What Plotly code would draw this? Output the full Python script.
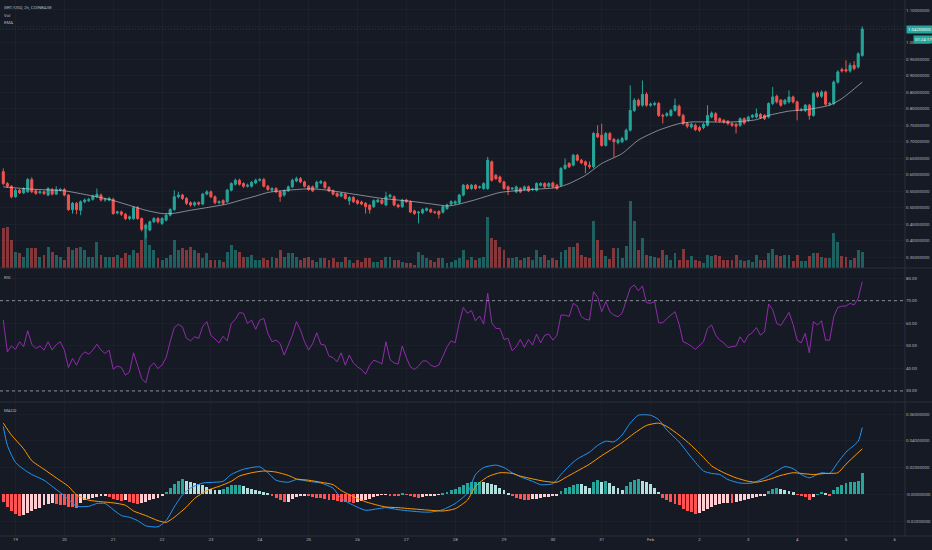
import numpy as np
import pandas as pd
import plotly.graph_objects as go

# ---------------- data (2h candles, GRT/USD Coinbase) ----------------
start = pd.Timestamp("2021-01-18 18:00")

open_ = [0.609,0.573,0.565,0.533,0.553,0.545,0.548,0.585,0.551,0.545,
 0.548,0.538,0.555,0.541,0.553,0.555,0.538,0.494,0.513,0.492,
 0.518,0.521,0.525,0.533,0.538,0.523,0.523,0.525,0.484,0.487,
 0.480,0.467,0.467,0.500,0.467,0.437,0.432,0.457,0.467,0.452,
 0.462,0.477,0.494,0.533,0.538,0.528,0.515,0.508,0.515,0.511,
 0.541,0.548,0.533,0.515,0.521,0.518,0.553,0.571,0.583,0.573,
 0.565,0.565,0.575,0.583,0.585,0.565,0.553,0.558,0.548,0.538,
 0.551,0.563,0.581,0.588,0.578,0.565,0.563,0.561,0.575,0.577,
 0.561,0.551,0.543,0.535,0.541,0.521,0.531,0.521,0.517,0.513,
 0.507,0.503,0.518,0.523,0.508,0.533,0.533,0.508,0.503,0.523,
 0.518,0.490,0.484,0.484,0.492,0.494,0.487,0.488,0.486,0.497,
 0.511,0.513,0.515,0.538,0.568,0.558,0.568,0.561,0.558,0.558,
 0.639,0.598,0.593,0.578,0.563,0.557,0.548,0.558,0.555,0.563,
 0.555,0.553,0.568,0.573,0.565,0.575,0.568,0.568,0.619,0.634,
 0.629,0.659,0.644,0.639,0.629,0.624,0.725,0.720,0.689,0.725,
 0.707,0.697,0.700,0.707,0.735,0.795,0.826,0.811,0.844,0.811,
 0.813,0.816,0.780,0.780,0.780,0.795,0.808,0.780,0.755,0.745,
 0.750,0.743,0.743,0.750,0.775,0.785,0.770,0.765,0.762,0.755,
 0.753,0.750,0.770,0.765,0.775,0.775,0.783,0.780,0.775,0.816,
 0.838,0.826,0.816,0.821,0.836,0.821,0.797,0.795,0.811,0.780,
 0.848,0.838,0.851,0.814,0.816,0.881,0.919,0.919,0.915,0.932,
 0.927,0.962]

close_ = [0.573,0.565,0.533,0.553,0.545,0.558,0.585,0.548,0.543,0.548,
 0.543,0.558,0.541,0.555,0.555,0.538,0.494,0.513,0.494,0.518,
 0.523,0.525,0.535,0.541,0.523,0.525,0.528,0.482,0.487,0.480,
 0.467,0.472,0.500,0.467,0.434,0.447,0.457,0.467,0.457,0.467,
 0.477,0.494,0.533,0.538,0.528,0.513,0.508,0.515,0.511,0.541,
 0.548,0.533,0.515,0.518,0.513,0.553,0.573,0.583,0.571,0.565,
 0.568,0.577,0.583,0.585,0.565,0.555,0.558,0.548,0.533,0.551,
 0.563,0.583,0.588,0.578,0.565,0.555,0.551,0.577,0.579,0.561,
 0.551,0.541,0.535,0.543,0.528,0.531,0.518,0.513,0.511,0.503,
 0.494,0.521,0.523,0.513,0.533,0.538,0.508,0.503,0.523,0.518,
 0.487,0.482,0.486,0.494,0.497,0.487,0.485,0.480,0.503,0.508,
 0.518,0.518,0.538,0.568,0.558,0.568,0.558,0.563,0.573,0.644,
 0.583,0.588,0.578,0.558,0.555,0.559,0.563,0.548,0.563,0.551,
 0.556,0.573,0.573,0.563,0.573,0.563,0.558,0.619,0.629,0.624,
 0.659,0.644,0.636,0.629,0.624,0.725,0.715,0.689,0.725,0.707,
 0.700,0.705,0.710,0.735,0.795,0.826,0.811,0.844,0.811,0.814,
 0.816,0.780,0.778,0.785,0.795,0.810,0.780,0.755,0.747,0.753,
 0.737,0.735,0.753,0.780,0.787,0.765,0.763,0.760,0.755,0.750,
 0.747,0.770,0.757,0.775,0.780,0.785,0.773,0.770,0.816,0.836,
 0.821,0.811,0.826,0.836,0.821,0.795,0.798,0.811,0.780,0.846,
 0.838,0.851,0.814,0.816,0.881,0.912,0.915,0.915,0.932,0.922,
 0.967,1.042]

high_ = [0.619,0.578,0.568,0.558,0.557,0.562,0.590,0.592,0.556,0.553,
 0.552,0.562,0.560,0.565,0.560,0.560,0.541,0.517,0.517,0.522,
 0.528,0.530,0.539,0.558,0.543,0.530,0.533,0.530,0.491,0.491,
 0.484,0.476,0.505,0.505,0.470,0.452,0.461,0.471,0.471,0.471,
 0.481,0.498,0.553,0.548,0.542,0.532,0.519,0.519,0.519,0.545,
 0.553,0.552,0.537,0.522,0.525,0.557,0.577,0.588,0.588,0.577,
 0.573,0.581,0.588,0.590,0.590,0.569,0.562,0.562,0.552,0.555,
 0.567,0.588,0.594,0.593,0.582,0.569,0.567,0.582,0.584,0.581,
 0.565,0.555,0.547,0.547,0.545,0.535,0.535,0.525,0.521,0.517,
 0.511,0.525,0.527,0.527,0.548,0.542,0.537,0.512,0.527,0.527,
 0.522,0.494,0.490,0.498,0.501,0.498,0.491,0.492,0.507,0.512,
 0.522,0.522,0.542,0.572,0.572,0.572,0.572,0.567,0.577,0.654,
 0.643,0.602,0.597,0.582,0.567,0.562,0.567,0.562,0.567,0.567,
 0.560,0.577,0.577,0.577,0.577,0.579,0.572,0.623,0.649,0.638,
 0.663,0.663,0.648,0.643,0.640,0.730,0.750,0.755,0.730,0.730,
 0.712,0.710,0.715,0.740,0.871,0.832,0.831,0.886,0.850,0.819,
 0.822,0.821,0.785,0.790,0.800,0.831,0.813,0.785,0.760,0.758,
 0.755,0.748,0.758,0.811,0.792,0.790,0.774,0.769,0.766,0.759,
 0.757,0.774,0.774,0.779,0.784,0.801,0.787,0.784,0.820,0.866,
 0.843,0.830,0.830,0.856,0.840,0.825,0.803,0.815,0.815,0.851,
 0.853,0.856,0.855,0.821,0.886,0.917,0.925,0.947,0.940,0.945,
 0.972,1.050]

low_ = [0.568,0.560,0.528,0.530,0.541,0.541,0.545,0.544,0.539,0.541,
 0.538,0.535,0.537,0.538,0.549,0.534,0.490,0.482,0.480,0.477,
 0.513,0.517,0.521,0.529,0.519,0.518,0.519,0.478,0.479,0.475,
 0.462,0.462,0.463,0.463,0.428,0.407,0.428,0.453,0.452,0.447,
 0.458,0.473,0.490,0.528,0.523,0.508,0.503,0.503,0.506,0.507,
 0.537,0.529,0.510,0.510,0.508,0.514,0.549,0.567,0.567,0.560,
 0.561,0.561,0.571,0.579,0.561,0.551,0.548,0.544,0.518,0.533,
 0.547,0.559,0.577,0.574,0.561,0.551,0.547,0.557,0.571,0.557,
 0.547,0.537,0.531,0.531,0.524,0.508,0.514,0.509,0.507,0.482,
 0.482,0.499,0.514,0.509,0.504,0.528,0.504,0.498,0.499,0.514,
 0.483,0.478,0.452,0.480,0.488,0.483,0.481,0.467,0.482,0.493,
 0.507,0.509,0.511,0.534,0.554,0.554,0.554,0.557,0.554,0.554,
 0.579,0.584,0.574,0.554,0.538,0.553,0.544,0.544,0.551,0.547,
 0.551,0.549,0.564,0.559,0.561,0.559,0.554,0.564,0.615,0.620,
 0.625,0.640,0.632,0.604,0.618,0.619,0.711,0.685,0.685,0.703,
 0.654,0.692,0.696,0.703,0.731,0.790,0.806,0.806,0.806,0.806,
 0.808,0.775,0.755,0.775,0.776,0.791,0.776,0.750,0.741,0.740,
 0.732,0.730,0.738,0.746,0.771,0.760,0.758,0.755,0.750,0.745,
 0.725,0.745,0.752,0.760,0.771,0.771,0.769,0.766,0.771,0.811,
 0.816,0.806,0.811,0.816,0.816,0.765,0.792,0.790,0.767,0.776,
 0.833,0.833,0.809,0.809,0.811,0.876,0.910,0.910,0.910,0.917,
 0.922,0.958]

volume_m = [4.0,4.1,2.8,1.6,1.5,1.1,2.0,2.0,2.0,1.1,
 1.3,2.1,1.6,1.3,1.1,0.8,2.1,1.8,2.0,2.1,
 1.8,1.1,1.1,2.6,1.3,1.1,1.1,1.1,1.3,1.0,
 1.5,1.3,1.8,1.5,2.8,4.0,2.3,1.8,1.0,0.8,
 1.0,1.3,2.8,1.8,2.0,1.8,2.1,1.8,1.5,1.0,
 1.5,0.8,0.8,0.8,0.6,1.6,2.3,1.8,1.6,1.1,
 1.1,1.3,0.8,0.8,1.0,0.8,1.1,1.0,1.8,1.1,
 1.5,1.5,1.1,0.8,1.0,1.1,0.8,0.6,1.0,1.0,
 0.8,1.0,0.6,0.6,1.1,0.8,0.5,0.8,0.6,1.0,
 1.0,0.6,0.6,0.8,1.1,1.1,0.8,0.8,0.6,0.5,
 0.5,0.3,1.6,1.3,1.0,0.8,0.6,1.0,1.0,0.5,
 0.6,0.8,1.0,1.8,0.8,1.1,0.8,1.0,1.1,5.1,
 3.0,2.8,2.1,1.8,1.0,1.0,1.1,0.8,1.0,1.1,
 0.8,1.8,1.1,1.3,0.8,1.0,0.8,1.6,1.8,2.1,
 2.1,2.5,1.3,1.1,1.0,4.7,2.8,1.8,1.2,0.9,
 2.0,2.0,1.0,2.2,6.7,4.7,1.8,3.0,1.3,1.2,
 1.1,1.0,1.8,1.3,0.8,1.5,0.8,1.9,0.8,1.2,
 0.8,0.7,0.5,1.3,1.2,1.3,1.2,0.8,0.8,0.8,
 1.3,0.8,0.7,0.8,0.6,1.3,0.8,0.8,1.5,1.9,
 1.3,1.2,1.3,1.3,0.7,1.3,0.7,0.7,1.2,1.5,
 1.5,1.1,1.0,1.0,3.5,2.6,1.2,1.1,0.8,1.0,
 1.8,1.6]

# EMA read at selected candles (candle index, value)
ema_idx = [0,7,15,20,26,32,35,39,42,46,50,55,59,62,65,69,75,79,85,93,101,107,109,
           111,116,122,130,136,139,143,147,152,156,161,166,169,179,185,188,193,197,
           203,206,211]
ema_val = [0.563,0.556,0.551,0.540,0.525,0.503,0.492,0.482,0.483,0.492,0.500,0.511,
           0.525,0.535,0.546,0.552,0.557,0.554,0.543,0.528,0.518,0.508,0.505,0.508,
           0.524,0.546,0.555,0.561,0.573,0.598,0.634,0.664,0.705,0.735,0.755,0.760,
           0.760,0.767,0.780,0.793,0.797,0.811,0.831,0.881]

rsi = [61.4,47.3,49.9,48.4,51.8,49.6,56.7,50.7,48.8,49.9,
 48.1,51.8,48.1,50.5,51.8,48.1,40.4,44.4,41.4,45.4,
 47.3,46.3,48.1,50.7,48.1,46.6,48.1,39.6,41.0,40.4,
 37.0,38.4,46.9,40.7,35.5,33.6,40.7,42.4,39.9,41.5,
 44.8,51.8,58.1,59.5,58.4,53.3,52.2,54.0,53.3,58.7,
 60.7,54.7,53.0,51.3,54.2,52.2,59.9,61.7,64.7,64.4,
 59.9,61.4,57.3,61.4,62.1,55.5,51.8,52.5,51.0,45.9,
 50.3,54.7,60.7,57.0,51.8,48.1,51.0,55.8,50.7,50.3,
 45.4,44.8,42.9,46.9,41.4,45.9,42.4,40.7,39.5,37.4,
 41.4,43.6,43.0,41.9,51.8,43.9,42.4,41.9,49.9,44.8,
 40.7,39.5,41.0,43.3,43.3,41.4,40.7,41.5,45.4,49.6,
 52.2,51.3,60.2,67.0,64.4,65.6,61.1,63.2,59.6,73.3,
 60.2,57.7,57.7,52.8,53.3,47.8,49.6,52.8,49.3,52.8,
 50.3,55.2,51.3,54.7,55.2,52.5,54.7,63.6,63.6,63.0,
 68.8,67.6,62.9,61.7,61.4,74.0,71.5,65.1,69.6,65.1,
 63.6,62.9,64.4,69.6,75.5,77.0,74.4,76.5,69.1,68.8,
 69.6,60.2,60.2,62.1,63.5,65.1,59.6,51.8,51.0,49.9,
 48.4,50.3,51.8,57.7,59.2,54.7,52.5,51.3,49.3,49.6,
 49.9,54.0,51.3,54.7,55.8,58.1,54.7,56.2,68.5,66.0,
 59.9,59.0,62.1,64.8,59.6,52.5,51.3,55.5,46.9,60.7,
 59.2,61.1,52.5,52.5,62.9,67.0,67.6,67.6,68.8,68.1,
 71.0,78.4]

macd_idx = [0,1,3,5,7,10,12,14,16,18,21,23,25,27,29,31,33,35,38,40,42,44,46,49,52,
            54,56,59,63,65,67,70,72,75,78,81,83,86,89,92,94,97,100,103,105,108,111,
            114,116,118,121,123,125,127,130,132,135,137,139,141,144,146,148,150,152,
            154,156,159,161,163,166,169,172,174,176,178,181,184,187,190,192,194,196,
            198,201,203,205,207,210,211]
macd_val = [0.0507,0.0366,0.0238,0.0187,0.0148,0.0105,0.0059,0.0013,-0.0038,-0.0090,
            -0.0090,-0.0069,-0.0069,-0.0115,-0.0159,-0.0172,-0.0197,-0.0236,-0.0243,
            -0.0197,-0.0095,-0.0005,0.0046,0.0084,0.0090,0.0097,0.0148,0.0187,0.0205,
            0.0161,0.0105,0.0090,0.0110,0.0097,0.0084,0.0046,-0.0031,-0.0082,-0.0120,
            -0.0108,-0.0100,-0.0115,-0.0125,-0.0133,-0.0133,-0.0115,-0.0069,0.0008,
            0.0148,0.0200,0.0218,0.0200,0.0161,0.0131,0.0097,0.0072,0.0079,0.0148,
            0.0212,0.0264,0.0315,0.0366,0.0397,0.0392,0.0443,0.0532,0.0591,0.0591,
            0.0558,0.0481,0.0392,0.0276,0.0174,0.0156,0.0148,0.0110,0.0084,0.0084,
            0.0123,0.0174,0.0207,0.0192,0.0148,0.0123,0.0161,0.0156,0.0238,0.0315,
            0.0397,0.0499]

signal_idx = [0,2,5,7,10,13,16,18,21,24,27,30,32,35,38,40,42,45,47,50,53,56,58,61,64,
              67,70,72,75,78,81,83,86,89,92,94,97,100,103,105,108,111,114,116,119,122,
              125,127,130,133,136,138,141,144,147,150,152,155,158,161,163,166,169,172,
              174,177,180,183,185,188,191,194,196,199,202,205,207,211]
signal_val = [0.0532,0.0443,0.0340,0.0251,0.0187,0.0123,0.0059,-0.0005,-0.0044,-0.0056,
              -0.0064,-0.0082,-0.0125,-0.0159,-0.0197,-0.0210,-0.0172,-0.0095,-0.0031,
              0.0028,0.0059,0.0097,0.0136,0.0161,0.0174,0.0166,0.0141,0.0115,0.0105,
              0.0090,0.0072,0.0028,-0.0018,-0.0056,-0.0082,-0.0095,-0.0100,-0.0108,
              -0.0115,-0.0120,-0.0125,-0.0108,-0.0044,0.0059,0.0131,0.0161,0.0156,
              0.0136,0.0115,0.0097,0.0090,0.0123,0.0174,0.0225,0.0289,0.0346,0.0387,
              0.0456,0.0515,0.0532,0.0507,0.0443,0.0366,0.0276,0.0212,0.0161,0.0123,
              0.0097,0.0090,0.0110,0.0141,0.0161,0.0156,0.0148,0.0156,0.0161,0.0225,
              0.0340]

hist = [-0.0056,-0.0095,-0.0125,-0.0151,-0.0164,-0.0154,-0.0141,-0.0125,-0.0113,-0.0100,
 -0.0084,-0.0074,-0.0069,-0.0074,-0.0079,-0.0084,-0.0092,-0.0097,-0.0100,-0.0069,
 -0.0046,-0.0033,-0.0026,-0.0020,-0.0015,-0.0010,-0.0018,-0.0033,-0.0044,-0.0049,
 -0.0046,-0.0056,-0.0069,-0.0074,-0.0064,-0.0056,-0.0046,-0.0036,-0.0031,-0.0015,
 0.0020,0.0049,0.0079,0.0100,0.0110,0.0102,0.0092,0.0084,0.0077,0.0067,
 0.0054,0.0041,0.0031,0.0028,0.0041,0.0056,0.0067,0.0072,0.0072,0.0059,
 0.0046,0.0038,0.0028,0.0026,0.0013,0.0003,-0.0015,-0.0031,-0.0046,-0.0061,
 -0.0059,-0.0036,-0.0020,-0.0013,-0.0008,-0.0015,-0.0020,-0.0026,-0.0031,-0.0036,
 -0.0041,-0.0046,-0.0054,-0.0056,-0.0059,-0.0061,-0.0064,-0.0059,-0.0051,-0.0044,
 -0.0033,-0.0023,-0.0013,-0.0005,-0.0003,-0.0008,-0.0013,-0.0013,0.0002,-0.0003,
 -0.0010,-0.0018,-0.0026,-0.0023,-0.0015,-0.0010,-0.0008,-0.0003,0.0010,0.0020,
 0.0028,0.0038,0.0051,0.0069,0.0084,0.0092,0.0095,0.0095,0.0092,0.0087,
 0.0079,0.0067,0.0049,0.0028,0.0008,-0.0015,-0.0028,-0.0038,-0.0044,-0.0044,
 -0.0038,-0.0033,-0.0028,-0.0023,-0.0018,-0.0013,-0.0008,0.0023,0.0044,0.0056,
 0.0069,0.0079,0.0074,0.0061,0.0049,0.0092,0.0105,0.0092,0.0097,0.0084,
 0.0064,0.0044,0.0031,0.0059,0.0090,0.0108,0.0115,0.0102,0.0090,0.0074,
 0.0049,0.0020,-0.0028,-0.0046,-0.0059,-0.0072,-0.0084,-0.0110,-0.0123,-0.0136,
 -0.0146,-0.0141,-0.0123,-0.0108,-0.0092,-0.0082,-0.0074,-0.0069,-0.0067,-0.0067,
 -0.0056,-0.0049,-0.0041,-0.0033,-0.0028,-0.0020,-0.0015,-0.0010,0.0026,0.0041,
 0.0046,0.0038,0.0031,0.0023,0.0013,-0.0005,-0.0013,-0.0020,-0.0044,-0.0018,
 0.0001,0.0018,0.0005,-0.0013,0.0028,0.0056,0.0072,0.0084,0.0090,0.0095,
 0.0097,0.0161]

price_ticks = [0.35,0.40,0.45,0.50,0.55,0.60,0.65,0.70,0.75,0.80,0.85,0.90,0.95,1.00,1.05,1.10]
# 1.05 label is hidden behind the last-price tag in the reference
price_tick_text = ["%.8f" % v if abs(v - 1.05) > 1e-9 else "" for v in price_ticks]
rsi_ticks = [30,40,50,60,70,80]
macd_ticks = [-0.02,0.0,0.02,0.04,0.06]
macd_tick_text = ["-0.02000000", "-0.00000000", "0.02000000", "0.04000000", "0.06000000"]
day_ticks = ["2021-01-19","2021-01-20","2021-01-21","2021-01-22","2021-01-23","2021-01-24",
             "2021-01-25","2021-01-26","2021-01-27","2021-01-28","2021-01-29","2021-01-30",
             "2021-01-31","2021-02-01","2021-02-02","2021-02-03","2021-02-04","2021-02-05",
             "2021-02-06"]
day_labels = ["19","20","21","22","23","24","25","26","27","28","29","30","31","Feb",
              "2","3","4","5","6"]

# ---------------- derived helpers ----------------
n = len(close_)
times = [start + pd.Timedelta(hours=2 * k) for k in range(n)]
ema_t = [times[k] for k in ema_idx]
macd_t = [times[k] for k in macd_idx]
sig_t = [times[k] for k in signal_idx]

UP, DN = "#26A69A", "#EF5350"
vol_colors = ["rgba(38,166,154,0.5)" if c >= o else "rgba(239,83,80,0.5)"
              for o, c in zip(open_, close_)]
hist_colors = []
prev = 0.0
for h in hist:
    if h >= 0:
        hist_colors.append("#26A69A" if h >= prev else "#B2DFDB")
    else:
        hist_colors.append("#FFCDD2" if h > prev else "#FF5252")
    prev = h

BG = "#161A25"
GRID = "rgba(42,46,57,0.30)"
TXT = "#B2B5BE"
FONT = "Roboto"
bar_w = 2 * 3600 * 1000 * 0.72

fig = go.Figure()

# volume (base axis of main pane, drawn below candles)
fig.add_trace(go.Bar(x=times, y=volume_m, marker_color=vol_colors, marker_line_width=0,
                     width=bar_w, xaxis="x", yaxis="y", hoverinfo="skip", showlegend=False))
# candles
fig.add_trace(go.Candlestick(x=times, open=open_, high=high_, low=low_, close=close_,
                             increasing=dict(line=dict(color=UP, width=1), fillcolor=UP),
                             decreasing=dict(line=dict(color=DN, width=1), fillcolor=DN),
                             whiskerwidth=0, xaxis="x", yaxis="y2", hoverinfo="skip",
                             showlegend=False))
# EMA
fig.add_trace(go.Scatter(x=ema_t, y=ema_val, mode="lines",
                         line=dict(color="rgba(210,212,220,0.75)", width=0.8, shape="spline",
                                   smoothing=0.6),
                         xaxis="x", yaxis="y2", hoverinfo="skip", showlegend=False))
# RSI
fig.add_trace(go.Scatter(x=times, y=rsi, mode="lines",
                         line=dict(color="#9C2FB8", width=0.9),
                         xaxis="x2", yaxis="y3", hoverinfo="skip", showlegend=False))
# MACD histogram + lines
fig.add_trace(go.Bar(x=times, y=hist, marker_color=hist_colors, marker_line_width=0,
                     width=bar_w, xaxis="x3", yaxis="y4", hoverinfo="skip", showlegend=False))
fig.add_trace(go.Scatter(x=macd_t, y=macd_val, mode="lines",
                         line=dict(color="#2196F3", width=1, shape="spline", smoothing=0.6),
                         xaxis="x3", yaxis="y4", hoverinfo="skip", showlegend=False))
fig.add_trace(go.Scatter(x=sig_t, y=signal_val, mode="lines",
                         line=dict(color="#FF9800", width=1, shape="spline", smoothing=0.6),
                         xaxis="x3", yaxis="y4", hoverinfo="skip", showlegend=False))

x_left = start - pd.Timedelta(minutes=97)
x_right = start + pd.Timedelta(hours=443)

tick_font = dict(family=FONT, size=4.4, color=TXT)
xcommon = dict(range=[x_left, x_right], tickvals=day_ticks, ticktext=day_labels,
               showgrid=True, gridcolor=GRID, gridwidth=1, zeroline=False, showline=False,
               ticks="", fixedrange=True)

W_PLOT = 905.0
H_PLOT = 536.0

fig.update_layout(
    width=932, height=550,
    margin=dict(l=0, r=27, t=0, b=14),
    paper_bgcolor=BG, plot_bgcolor=BG,
    showlegend=False, bargap=0, boxgap=0.28,
    font=dict(family=FONT, color=TXT, size=5),
    xaxis=dict(domain=[0, 1], anchor="y", showticklabels=False,
               rangeslider=dict(visible=False), **xcommon),
    xaxis2=dict(domain=[0, 1], anchor="y3", showticklabels=False, matches="x", **xcommon),
    xaxis3=dict(domain=[0, 1], anchor="y4", showticklabels=True, matches="x",
                tickfont=tick_font, **xcommon),
    yaxis=dict(domain=[0.5, 1.0], range=[0, 26.8], visible=False, showgrid=False,
               fixedrange=True),
    yaxis2=dict(overlaying="y", side="right", anchor="x", range=[0.3167, 1.1303],
                tickvals=price_ticks, ticktext=price_tick_text,
                tickfont=tick_font, showgrid=True, gridcolor=GRID, zeroline=False,
                ticks="", fixedrange=True),
    yaxis3=dict(domain=[0.25, 0.498], side="right", anchor="x2", range=[25.1, 84.0],
                tickvals=rsi_ticks, ticktext=["%.2f" % v for v in rsi_ticks],
                tickfont=tick_font, showgrid=True, gridcolor=GRID, zeroline=False,
                ticks="", fixedrange=True),
    yaxis4=dict(domain=[0.0, 0.248], side="right", anchor="x3", range=[-0.0312, 0.0682],
                tickvals=macd_ticks, ticktext=macd_tick_text,
                tickfont=tick_font, showgrid=True, gridcolor=GRID, zeroline=False,
                ticks="", fixedrange=True),
)

shapes = []
# pane separators and price-scale border
for yp in [(536 - 268) / H_PLOT, (536 - 402) / H_PLOT, 0.0]:
    shapes.append(dict(type="line", xref="paper", yref="paper", x0=0, x1=932 / W_PLOT,
                       y0=yp, y1=yp, line=dict(color="#2A2E39", width=1)))
shapes.append(dict(type="line", xref="paper", yref="paper", x0=1, x1=1, y0=0, y1=1,
                   line=dict(color="#2A2E39", width=1)))
# RSI bands
for lvl in [70, 30]:
    shapes.append(dict(type="line", xref="paper", yref="y3", x0=0, x1=1, y0=lvl, y1=lvl,
                       line=dict(color="#8A8D96", width=1, dash="3px,3px")))
# last price line
shapes.append(dict(type="line", xref="paper", yref="y2", x0=0, x1=1, y0=close_[-1],
                   y1=close_[-1], line=dict(color="rgba(38,166,154,0.40)", width=0.8,
                                            dash="1px,2px")))
fig.update_layout(shapes=shapes)

lbl = dict(family=FONT, size=4.4, color=TXT)
annotations = [
    dict(text="GRT/USD, 2h, COINBASE", xref="paper", yref="paper", x=2 / W_PLOT,
         y=1 - 7 / H_PLOT, xanchor="left", yanchor="middle", showarrow=False, font=lbl),
    dict(text="Vol", xref="paper", yref="paper", x=2 / W_PLOT, y=1 - 15 / H_PLOT,
         xanchor="left", yanchor="middle", showarrow=False, font=lbl),
    dict(text="EMA", xref="paper", yref="paper", x=2 / W_PLOT, y=1 - 23 / H_PLOT,
         xanchor="left", yanchor="middle", showarrow=False, font=lbl),
    dict(text="RSI", xref="paper", yref="paper", x=2 / W_PLOT, y=(536 - 277) / H_PLOT,
         xanchor="left", yanchor="middle", showarrow=False, font=lbl),
    dict(text="MACD", xref="paper", yref="paper", x=2 / W_PLOT, y=(536 - 410) / H_PLOT,
         xanchor="left", yanchor="middle", showarrow=False, font=lbl),
    dict(text="%.8f" % close_[-1], xref="paper", yref="y2", x=906 / W_PLOT, y=close_[-1],
         xanchor="left", yanchor="middle", showarrow=False, bgcolor=UP, borderpad=1,
         font=dict(family=FONT, size=4.3, color="#FFFFFF")),
    dict(text="01:24:17", xref="paper", yref="y2", x=913 / W_PLOT, y=1.009,
         xanchor="left", yanchor="middle", showarrow=False, bgcolor=UP, borderpad=1,
         font=dict(family=FONT, size=4.3, color="#FFFFFF")),
]
fig.update_layout(annotations=annotations)

fig.write_html("out.html", config={"displayModeBar": False},
               post_script="document.body.style.margin='0';document.body.style.background='%s';" % BG)
